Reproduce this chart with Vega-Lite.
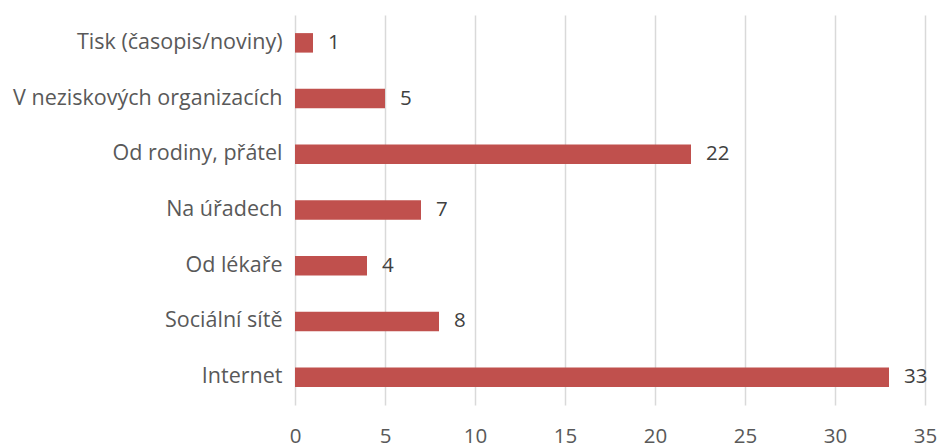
{
  "$schema": "https://vega.github.io/schema/vega-lite/v6.json",
  "width": 630,
  "height": 390,
  "autosize": {"type": "none"},
  "padding": {"left": 295, "top": 15, "right": 13, "bottom": 43},
  "background": "white",
  "config": {"view": {"stroke": null}, "font": "Open Sans"},
  "data": {"values": [
    {"kategorie": "Tisk (časopis/noviny)", "pocet": 1},
    {"kategorie": "V neziskových organizacích", "pocet": 5},
    {"kategorie": "Od rodiny, přátel", "pocet": 22},
    {"kategorie": "Na úřadech", "pocet": 7},
    {"kategorie": "Od lékaře", "pocet": 4},
    {"kategorie": "Sociální sítě", "pocet": 8},
    {"kategorie": "Internet", "pocet": 33}
  ]},
  "encoding": {
    "y": {"field": "kategorie", "type": "nominal", "sort": null,
      "scale": {"paddingInner": 0.65, "paddingOuter": 0.325},
      "axis": {"title": null, "domain": false, "ticks": false, "labelFontSize": 21.5, "labelColor": "#595959", "labelPadding": 13, "labelLimit": 400, "labelFont": "Open Sans"}},
    "x": {"field": "pocet", "type": "quantitative",
      "scale": {"domain": [0, 35], "nice": false},
      "axis": {"title": null, "values": [0,5,10,15,20,25,30,35], "domain": false, "ticks": false, "grid": true, "gridColor": "#d9d9d9", "gridWidth": 1.5, "labelFontSize": 20.5, "labelColor": "#595959", "labelPadding": 21, "labelFont": "Open Sans", "labelFlush": false}}
  },
  "layer": [
    {"mark": {"type": "bar", "color": "#c0504d"}},
    {"mark": {"type": "text", "align": "left", "dx": 15, "fontSize": 20.5, "color": "#404040", "font": "Open Sans"},
      "encoding": {"text": {"field": "pocet", "type": "quantitative"}}}
  ]
}
